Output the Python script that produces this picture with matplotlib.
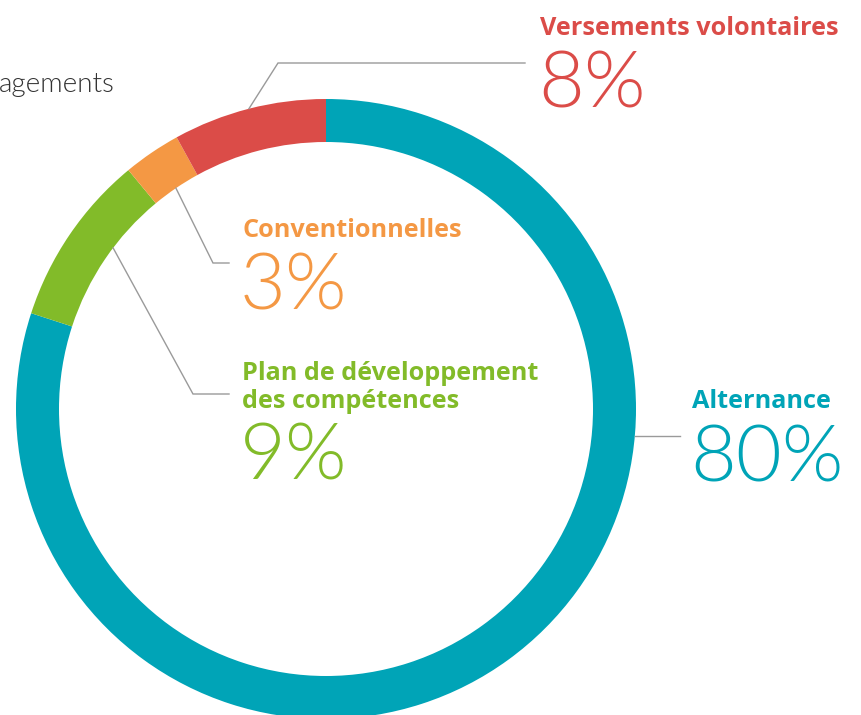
import numpy as np
import matplotlib.pyplot as plt

# données
categories = ["Alternance", "Plan de développement\ndes compétences",
              "Conventionnelles", "Versements volontaires"]
shares = [80, 9, 3, 8]
colors = ["#00a4b7", "#82bb29", "#f49844", "#db4c48"]
pct_labels = [f"{v}%" for v in shares]

# mise en page (pixels, origine en haut a gauche)
W, H = 861, 715
center = (326, 409)
r_out, ring = 310, 43
# position du point d'attache dans le segment (fraction, rayon)
anchor = [(0.33, r_out), (0.59, r_out - ring), (0.5, r_out - ring), (0.5, r_out)]
elbow = [None, (193, 394), (213, 263), (278, 63)]
line_end = [680, 229, 229, 525]
label_xy = [(692, 408), (242, 380), (242, 237), (540, 35)]
pct_xy = [(692, 481), (242, 480), (242, 309), (540, 108)]

fig = plt.figure(figsize=(W / 100, H / 100), dpi=100)
ax = fig.add_axes([0, 0, 1, 1])

wedges, _ = ax.pie(shares, colors=colors, startangle=270, counterclock=True,
                   radius=r_out, center=center,
                   wedgeprops=dict(width=ring, linewidth=0))
ax.set_xlim(0, W)
ax.set_ylim(H, 0)
ax.set_aspect("equal")
ax.axis("off")

for i, w in enumerate(wedges):
    frac, rr = anchor[i]
    th = np.deg2rad(w.theta1 + frac * (w.theta2 - w.theta1))
    x0 = center[0] + rr * np.cos(th)
    y0 = center[1] + rr * np.sin(th)
    if elbow[i] is None:
        xs, ys = [x0, line_end[i]], [y0, y0]
    else:
        xs = [x0, elbow[i][0], line_end[i]]
        ys = [y0, elbow[i][1], elbow[i][1]]
    ax.plot(xs, ys, color="#9a9a9a", lw=1.0, solid_joinstyle="miter")

    lx, ly = label_xy[i]
    lines = categories[i].split("\n")
    for k, txt in enumerate(lines):
        ax.text(lx, ly + k * 28, txt, color=colors[i], fontsize=18.2,
                fontweight="bold", family="Open Sans", va="baseline", ha="left")
    px, py = pct_xy[i]
    ax.text(px - 2, py, pct_labels[i], color=colors[i], fontsize=57,
            fontweight=300, fontstyle="normal", family="Lato",
            va="baseline", ha="left")

ax.text(-1, 92, "agements", color="#333333", fontsize=20, fontweight=300,
        family="Lato", va="baseline", ha="left")

fig.savefig("out.png", dpi=100)
